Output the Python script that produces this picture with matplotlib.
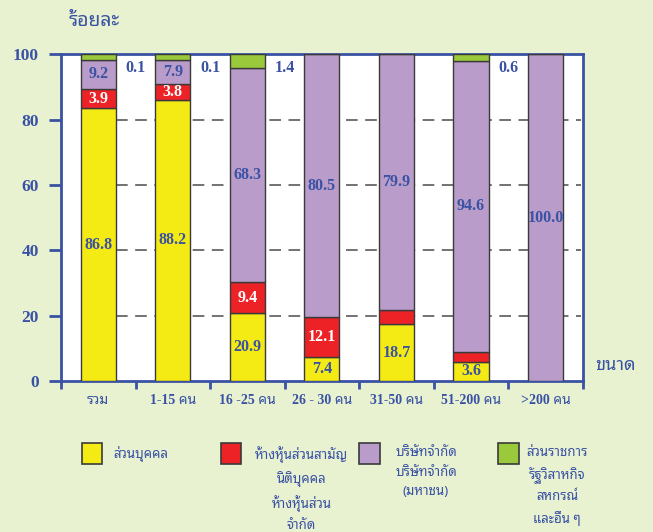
import matplotlib
matplotlib.use("Agg")
import matplotlib.pyplot as plt
from matplotlib import font_manager as fm
from matplotlib.ft2font import FT2Font
from matplotlib.patches import Rectangle

# ---------------- data ----------------
categories = ['รวม', '1-15 คน', '16 -25 คน', '26 - 30 คน', '31-50 คน', '51-200 คน', '>200 คน']
individual = [83.5, 86.1, 20.8, 7.3, 17.4, 5.9, 0.0]      # ส่วนบุคคล
partnership = [6.0, 4.9, 9.5, 12.3, 4.2, 3.1, 0.0]        # ห้างหุ้นส่วน
company = [8.9, 7.4, 65.6, 80.4, 78.4, 89.1, 100.0]       # บริษัทจำกัด
government = [1.6, 1.6, 4.1, 0.0, 0.0, 1.9, 0.0]         # ส่วนราชการ ฯลฯ

individual_lbl = ['86.8', '88.2', '20.9', '7.4', '18.7', '3.6', '']
partnership_lbl = ['3.9', '3.8', '9.4', '12.1', '', '', '']
company_lbl = ['9.2', '7.9', '68.3', '80.5', '79.9', '94.6', '100.0']
government_lbl = ['0.1', '0.1', '1.4', '', '', '0.6', '']

yticks = [0, 20, 40, 60, 80, 100]
legend_labels = ['ส่วนบุคคล',
                 'ห้างหุ้นส่วนสามัญ\nนิติบุคคล\nห้างหุ้นส่วน\nจำกัด',
                 'บริษัทจำกัด\nบริษัทจำกัด\n(มหาชน)',
                 'ส่วนราชการ\nรัฐวิสาหกิจ\nสหกรณ์\nและอื่น ๆ']

# ---------------- fonts ----------------
def find_thai():
    found = {}
    for f in fm.fontManager.ttflist:
        try:
            cm = FT2Font(f.fname).get_charmap()
        except Exception:
            continue
        if 0x0E01 in cm:
            found.setdefault(f.name, []).append(f)
    pref = ['Noto Sans Thai Looped', 'Noto Serif Thai', 'Norasi', 'Kinnari', 'Laksaman',
            'TH Sarabun New', 'Garuda', 'Loma', 'Waree', 'Noto Sans Thai', 'Noto Sans Thai UI',
            'Tlwg Typo']
    for p in pref:
        if p in found:
            return p
    return sorted(found)[0] if found else 'DejaVu Sans'

THAI = find_thai()
SERIF = ['Liberation Serif', THAI, 'DejaVu Sans']
THAIF = [THAI, 'DejaVu Sans']

BG = '#e8f2d1'
BLUE = '#3a52a4'
C_Y = '#f5eb14'
C_R = '#ec2227'
C_P = '#b99cc9'
C_G = '#9bc93c'
EDGE = '#3a3a3a'

fig = plt.figure(figsize=(6.53, 5.32), dpi=100, facecolor=BG)
ax = fig.add_axes([0.0934, 0.2838, 0.7989, 0.6138])
ax.set_facecolor('white')

x = list(range(len(categories)))
w = 0.474
bottoms = [0.0] * len(x)
series = [(individual, C_Y, individual_lbl, BLUE),
          (partnership, C_R, partnership_lbl, 'white'),
          (company, C_P, company_lbl, BLUE)]
for vals, col, lbls, tcol in series:
    ax.bar(x, vals, w, bottom=bottoms, color=col, edgecolor=EDGE, linewidth=1.0, zorder=3)
    for i, (v, b, l) in enumerate(zip(vals, bottoms, lbls)):
        if l:
            ax.text(i, b + v / 2, l, ha='center', va='center', color=tcol,
                    fontsize=11.5, fontweight='bold', family=SERIF, zorder=4)
    bottoms = [b + v for b, v in zip(bottoms, vals)]
ax.bar(x, government, w, bottom=bottoms, color=C_G, edgecolor=EDGE, linewidth=1.0, zorder=3)
for i, l in enumerate(government_lbl):
    if l:
        ax.text(i + 0.5, 96.0, l, ha='center', va='center', color=BLUE,
                fontsize=11.5, fontweight='bold', family=SERIF, zorder=4)

# grid lines
for yv in yticks[1:-1]:
    ax.hlines(yv, w / 2, len(x) - 0.52, colors='#5a5a5a', linestyles=(0, (7, 4.5)),
              linewidth=1.2, zorder=1)

ax.set_xlim(-0.5, len(x) - 0.5)
ax.set_ylim(0, 100)
ax.set_yticks(yticks)
ax.set_yticklabels([str(t) for t in yticks], color=BLUE, fontsize=12.5,
                   fontweight='bold', family=SERIF)
ax.set_xticks([i + 0.5 for i in range(-1, len(x))], minor=False)
ax.set_xticklabels([])
ax.set_xticks(x, minor=True)
ax.set_xticklabels(categories, minor=True, color=BLUE, fontsize=10,
                   fontweight='bold', family=SERIF)
ax.tick_params(axis='x', which='major', length=6, width=2, color=BLUE, direction='out')
ax.tick_params(axis='x', which='minor', length=0, pad=9)
ax.tick_params(axis='y', length=9, width=2, color=BLUE, pad=7)
for s in ax.spines.values():
    s.set_color(BLUE)
    s.set_linewidth(2)

fig.text(94 / 653, 1 - 21 / 532, 'ร้อยละ', ha='center', va='center', color=BLUE,
         fontsize=14, fontweight='bold', family=THAIF)
fig.text(616 / 653, 1 - 365 / 532, 'ขนาด', ha='center', va='center', color=BLUE,
         fontsize=13, fontweight='bold', family=THAIF)

# legend
leg_sq_x = [82, 220.7, 359.3, 498.3]
leg_txt_x = [141, 301.7, 426, 557]
leg_cols = [C_Y, C_R, C_P, C_G]
for sx, tx, col, lab in zip(leg_sq_x, leg_txt_x, leg_cols, legend_labels):
    fig.patches.append(Rectangle((sx / 653, 1 - 464 / 532), 20.5 / 653, 21 / 532,
                                 transform=fig.transFigure, facecolor=col,
                                 edgecolor=EDGE, linewidth=1.2))
    fig.text(tx / 653, 1 - 446 / 532, lab, ha='center', va='top', color=BLUE,
             fontsize=9.5, family=THAIF, linespacing=1.65, multialignment='center')

fig.savefig('out.png', dpi=100, facecolor=BG)
